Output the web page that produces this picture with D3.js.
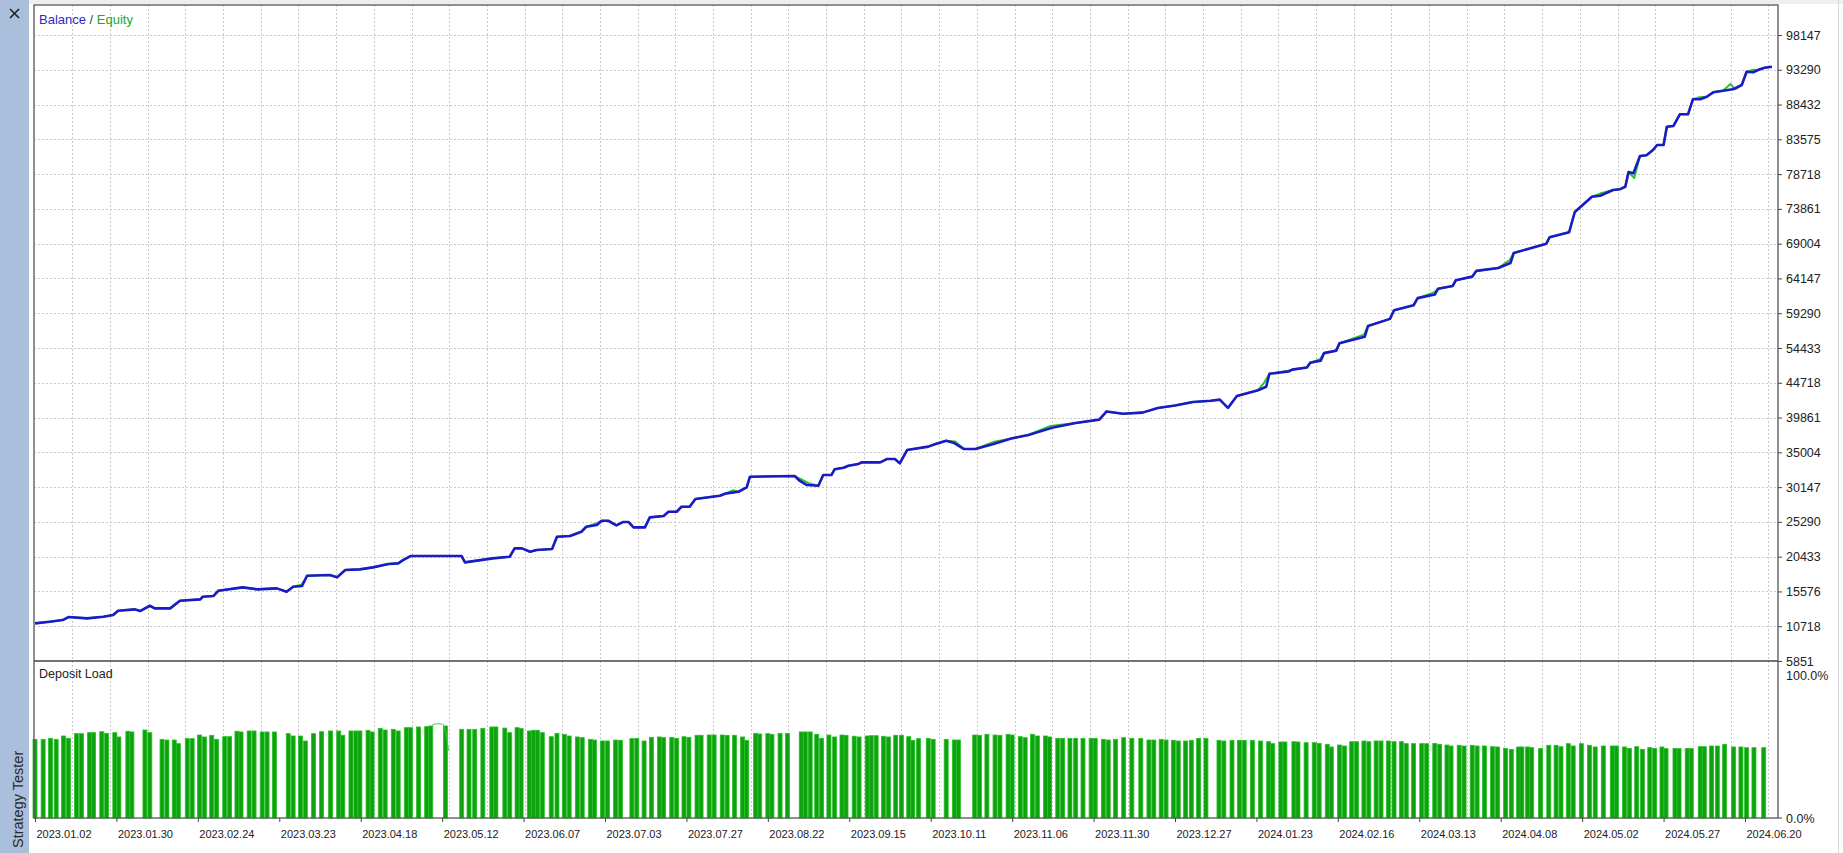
<!DOCTYPE html>
<html><head><meta charset="utf-8">
<script src="https://cdn.jsdelivr.net/npm/d3@7"></script>
<style>html,body{margin:0;padding:0;background:#fff;overflow:hidden}
svg{display:block;font-family:"Liberation Sans",Arial,sans-serif}</style>
</head><body><svg id="c" width="1843" height="853"></svg>
<script>
// ---------- data ----------
const xLabels = ["2023.01.02","2023.01.30","2023.02.24","2023.03.23","2023.04.18","2023.05.12","2023.06.07","2023.07.03","2023.07.27","2023.08.22","2023.09.15","2023.10.11","2023.11.06","2023.11.30","2023.12.27","2024.01.23","2024.02.16","2024.03.13","2024.04.08","2024.05.02","2024.05.27","2024.06.20"];
const yLabels = [5851,10718,15576,20433,25290,30147,35004,39861,44718,54433,59290,64147,69004,73861,78718,83575,88432,93290,98147];
const loadLabels = [0, 100];
// [position on date axis (label index units), value]
const balance = [[0.00,11117],[0.18,11341],[0.34,11578],[0.41,11997],[0.64,11816],[0.84,12039],[0.96,12277],[1.02,12877],[1.23,13073],[1.29,12836],[1.41,13576],[1.47,13213],[1.66,13213],[1.78,14274],[2.03,14470],[2.06,14833],[2.19,14931],[2.25,15671],[2.55,16146],[2.73,15867],[2.97,16006],[3.09,15532],[3.17,16230],[3.28,16328],[3.34,17767],[3.62,17864],[3.71,17543],[3.81,18563],[3.99,18661],[4.15,18940],[4.34,19401],[4.46,19499],[4.52,19960],[4.61,20518],[5.24,20518],[5.28,19638],[5.62,20197],[5.83,20421],[5.89,21594],[5.98,21594],[6.08,21120],[6.16,21357],[6.35,21496],[6.41,23214],[6.57,23312],[6.71,23913],[6.77,24611],[6.90,24849],[6.96,25449],[7.04,25449],[7.14,24807],[7.22,25268],[7.29,25268],[7.35,24528],[7.49,24528],[7.55,25924],[7.72,26106],[7.78,26707],[7.88,26707],[7.94,27405],[8.04,27405],[8.11,28481],[8.41,28942],[8.49,29277],[8.64,29500],[8.74,30115],[8.78,31596],[9.33,31694],[9.39,31037],[9.48,30436],[9.62,30339],[9.68,31833],[9.78,31833],[9.82,32630],[9.93,32853],[9.99,33132],[10.11,33370],[10.15,33607],[10.38,33607],[10.46,34068],[10.56,34068],[10.62,33468],[10.71,35326],[10.97,35801],[11.05,36122],[11.19,36611],[11.29,36303],[11.41,35465],[11.55,35465],[11.76,36122],[11.99,36946],[12.20,37421],[12.49,38427],[12.78,39097],[13.07,39572],[13.16,40718],[13.36,40396],[13.60,40550],[13.79,41207],[14.00,41542],[14.22,42031],[14.44,42198],[14.55,42366],[14.65,41207],[14.76,42869],[15.02,43679],[15.12,44168],[15.16,47232],[15.40,47900],[15.44,48400],[15.62,49000],[15.66,50300],[15.79,50900],[15.83,53000],[15.98,53700],[16.02,55100],[16.33,56000],[16.37,57500],[16.64,58500],[16.69,59700],[16.93,60400],[16.98,61400],[17.19,61900],[17.23,62700],[17.41,63100],[17.45,63900],[17.65,64400],[17.70,65200],[17.97,65605],[18.12,66300],[18.16,67700],[18.56,69000],[18.60,69900],[18.84,70600],[18.91,73425],[19.12,75562],[19.22,75702],[19.38,76498],[19.46,76595],[19.53,76959],[19.57,79011],[19.63,78830],[19.71,81246],[19.79,81344],[19.87,82084],[19.92,82782],[20.00,82782],[20.04,85338],[20.12,85435],[20.20,87069],[20.30,87069],[20.36,89164],[20.45,89164],[20.53,89527],[20.61,90141],[20.73,90365],[20.85,90560],[20.96,91161],[21.02,93018],[21.10,92934],[21.16,93256],[21.24,93577],[21.33,93717]];
const equity = [[0.00,11117],[0.18,11341],[0.34,11578],[0.41,11997],[0.64,11816],[0.84,12039],[0.96,12277],[1.02,12877],[1.23,13073],[1.29,12836],[1.41,13576],[1.47,13213],[1.66,13213],[1.78,14274],[2.03,14470],[2.06,14833],[2.19,14931],[2.25,15671],[2.55,16146],[2.73,15867],[2.97,16006],[3.09,15532],[3.17,16230],[3.27,16500],[3.35,17767],[3.62,17864],[3.71,17543],[3.81,18563],[3.99,18661],[4.15,18940],[4.34,19401],[4.46,19499],[4.52,19960],[4.61,20518],[5.24,20518],[5.28,19638],[5.62,20197],[5.83,20421],[5.89,21594],[5.98,21594],[6.08,21120],[6.16,21357],[6.35,21496],[6.41,23214],[6.57,23312],[6.71,23913],[6.77,24611],[6.90,25100],[6.96,25449],[7.04,25449],[7.14,24807],[7.22,25268],[7.29,25268],[7.35,24528],[7.49,24528],[7.55,25924],[7.72,26106],[7.78,26707],[7.88,26707],[7.94,27405],[8.04,27405],[8.11,28481],[8.41,28942],[8.49,29277],[8.57,29700],[8.64,29500],[8.74,30115],[8.78,31596],[9.33,31694],[9.40,31300],[9.50,30700],[9.62,30339],[9.68,31833],[9.78,31833],[9.82,32630],[9.93,32853],[9.99,33132],[10.11,33370],[10.15,33607],[10.38,33607],[10.46,34068],[10.56,34068],[10.62,33468],[10.71,35326],[10.97,35801],[11.05,36122],[11.19,36611],[11.30,36500],[11.41,35465],[11.55,35465],[11.78,36500],[11.99,36946],[12.20,37421],[12.47,38700],[12.78,39097],[13.07,39572],[13.16,40718],[13.36,40396],[13.60,40550],[13.79,41207],[14.00,41542],[14.22,42031],[14.44,42198],[14.55,42366],[14.65,41207],[14.76,42869],[15.02,43679],[15.10,44900],[15.16,47232],[15.39,48100],[15.44,48400],[15.62,49000],[15.66,50300],[15.78,51300],[15.83,53000],[15.98,53700],[16.02,55100],[16.32,56300],[16.37,57500],[16.64,58500],[16.69,59700],[16.93,60400],[16.98,61400],[17.18,62200],[17.23,62700],[17.41,63100],[17.45,63900],[17.65,64400],[17.70,65200],[17.97,65605],[18.11,66700],[18.16,67700],[18.56,69000],[18.60,69900],[18.84,70600],[18.91,73425],[19.12,75562],[19.22,76000],[19.38,76498],[19.46,76595],[19.53,76959],[19.57,79011],[19.64,78174],[19.71,81246],[19.79,81344],[19.87,82084],[19.92,82782],[20.00,82782],[20.04,85338],[20.12,85435],[20.20,87069],[20.30,87069],[20.36,89164],[20.44,89450],[20.53,89527],[20.61,90141],[20.73,90365],[20.82,91300],[20.88,90560],[20.96,91161],[21.02,93018],[21.10,93300],[21.16,93256],[21.24,93577],[21.33,93717]];
// deposit load, percent
const depositLoad = [[0.00,56.6],[0.10,56.6],[0.19,57.3],[0.26,56.6],[0.35,59.0],[0.41,57.3],[0.51,60.7],[0.57,60.7],[0.67,61.4],[0.72,61.4],[0.82,62.1],[0.88,60.9],[0.98,61.4],[1.03,58.3],[1.14,62.4],[1.19,61.9],[1.35,63.3],[1.41,61.4],[1.56,56.6],[1.62,56.1],[1.71,56.1],[1.76,53.5],[1.87,57.1],[1.93,57.1],[2.02,59.7],[2.08,58.3],[2.17,59.5],[2.23,56.6],[2.33,58.5],[2.39,58.5],[2.48,62.4],[2.53,61.9],[2.63,62.6],[2.69,62.6],[2.79,61.9],[2.85,61.9],[2.94,61.9],[3.11,60.7],[3.17,59.0],[3.26,59.0],[3.32,55.4],[3.42,60.7],[3.52,62.1],[3.63,62.6],[3.73,62.6],[3.78,59.5],[3.88,62.6],[3.94,62.6],[3.99,62.6],[4.09,63.1],[4.14,61.9],[4.24,64.5],[4.30,63.3],[4.40,63.8],[4.46,62.6],[4.56,65.0],[4.61,65.0],[4.71,65.5],[4.81,65.7],[4.86,66.2],[5.04,66.2],[5.24,63.8],[5.33,63.8],[5.40,63.8],
[5.50,64.5],[5.61,65.5],[5.66,65.5],[5.77,64.7],[5.83,61.4],[5.92,65.0],[5.97,64.3],[6.07,62.6],[6.12,63.1],[6.17,63.1],[6.23,61.4],[6.34,58.5],[6.41,60.9],[6.50,60.2],[6.56,59.0],[6.66,58.3],[6.72,57.8],[6.82,56.6],[6.87,56.1],[6.97,55.4],[7.03,55.4],[7.13,56.1],[7.19,55.9],[7.33,57.1],[7.39,57.3],[7.48,55.4],[7.57,58.0],[7.67,58.3],[7.72,57.8],[7.82,58.0],[7.88,57.3],[7.97,58.5],[8.03,58.0],[8.13,59.5],[8.18,59.5],[8.28,59.7],[8.34,59.7],[8.44,59.7],[8.50,59.5],[8.59,59.5],[8.69,58.3],[8.74,55.9],[8.85,60.9],[8.90,60.4],[9.00,60.7],[9.05,60.2],[9.15,60.9],[9.24,60.9],[9.41,61.9],[9.46,61.9],[9.52,61.9],[9.60,60.2],[9.66,57.3],[9.75,59.7],[9.82,58.3],[9.91,59.7],[9.96,59.5],[10.06,58.8],[10.12,58.3],[10.22,59.0],[10.27,59.2],[10.33,59.2],[10.42,58.8],[10.48,58.3],[10.57,59.5],[10.64,59.5],[10.73,58.5],[10.78,55.9],[10.85,57.1],
[10.97,57.3],[11.03,56.6],[11.19,56.6],[11.29,56.1],[11.34,56.1],[11.54,59.7],[11.60,59.5],[11.69,60.2],[11.79,59.7],[11.85,59.5],[11.95,60.2],[12.00,59.7],[12.10,58.5],[12.16,57.8],[12.25,60.2],[12.31,59.0],[12.41,59.0],[12.46,58.3],[12.56,57.3],[12.62,57.3],[12.71,57.3],[12.78,57.3],[12.87,57.3],[12.97,57.3],[13.02,57.3],[13.12,56.6],[13.18,56.1],[13.27,56.6],[13.37,57.8],[13.47,57.3],[13.58,57.3],[13.68,56.1],[13.74,56.1],[13.83,56.6],[13.89,56.1],[13.98,55.9],[14.04,55.4],[14.13,55.4],[14.20,55.9],[14.29,57.3],[14.38,57.3],[14.54,55.9],[14.60,55.4],[14.70,55.9],[14.79,55.9],[14.85,55.9],[14.95,55.9],[15.05,55.4],[15.15,54.9],[15.20,53.5],[15.30,54.7],[15.35,54.7],[15.46,54.9],[15.51,54.7],[15.61,54.2],[15.71,54.2],[15.77,53.7],[15.87,53.0],[15.92,51.1],[16.02,52.5],[16.08,51.8],[16.17,54.9],[16.23,54.9],
[16.32,55.4],[16.38,54.9],[16.47,55.4],[16.53,55.4],[16.62,55.4],[16.69,54.9],[16.78,54.9],[16.84,53.5],[16.93,53.5],[17.03,53.5],[17.09,53.5],[17.19,53.7],[17.25,53.0],[17.34,52.5],[17.39,51.8],[17.49,52.3],[17.55,51.8],[17.65,52.3],[17.71,51.8],[17.80,51.8],[17.90,51.3],[17.96,51.1],[18.06,50.1],[18.13,49.4],[18.22,51.1],[18.26,51.1],[18.33,51.1],[18.38,50.6],[18.49,49.9],[18.59,52.3],[18.68,52.3],[18.74,51.3],[18.83,53.5],[18.89,51.8],[18.99,53.5],[19.09,52.3],[19.16,51.1],[19.26,51.8],[19.37,51.8],[19.42,51.8],[19.52,51.1],[19.58,50.1],[19.67,51.3],[19.74,49.4],[19.83,50.6],[19.89,50.1],[19.98,51.1],[20.03,49.9],[20.14,50.1],[20.19,49.9],[20.29,50.1],[20.34,49.9],[20.45,51.3],[20.50,51.3],[20.59,51.8],[20.66,51.8],[20.75,53.0],[20.86,51.1],[20.95,51.1],[21.02,50.6],[21.11,50.6],[21.23,50.6]];
// thin deposit-load outline seen around 2023.05
const loadOutline = [[4.87,66.2],[4.90,67.4],[4.94,67.8],[4.99,67.6],[5.02,66.8],[5.05,60.0],[5.08,48.5]];

// ---------- layout ----------
const L = 34, R = 1778, T = 5, MB = 661, LB = 818;
const svg = d3.select("#c");
const x = d3.scaleLinear().domain([0, xLabels.length - 1]).range([35, 1745]);
const step = (MB - 35) / (yLabels.length - 1);
const y = d3.scaleLinear().domain(yLabels).range(yLabels.map((d, i) => MB - i * step));
const yl = d3.scaleLinear().domain([0, 100]).range([LB, 679]);
const gx = d3.scaleLinear().domain([0, 45]).range([72.3, 1768.3]);

// window chrome
svg.append("rect").attr("x", 0).attr("y", 0).attr("width", 1843).attr("height", 853).attr("fill", "#fff");
svg.append("rect").attr("x", 29).attr("y", 0).attr("width", 1814).attr("height", 4).attr("fill", "#efefef");
svg.append("line").attr("x1", 1838.5).attr("x2", 1838.5).attr("y1", 0).attr("y2", 853).attr("stroke", "#d8d8d8");
svg.append("rect").attr("x", 0).attr("y", 0).attr("width", 29).attr("height", 853).attr("fill", "#a9bfdb");
svg.append("line").attr("x1", 10).attr("y1", 9).attr("x2", 19).attr("y2", 18).attr("stroke", "#222").attr("stroke-width", 1.6);
svg.append("line").attr("x1", 19).attr("y1", 9).attr("x2", 10).attr("y2", 18).attr("stroke", "#222").attr("stroke-width", 1.6);
svg.append("text").attr("transform", "translate(23,848) rotate(-90)").attr("font-size", 14.5).attr("fill", "#2a2a2a").text("Strategy Tester");

// grid
const grid = svg.append("g").attr("stroke", "#c9c9c9").attr("stroke-dasharray", "2,2").attr("stroke-width", 1);
grid.selectAll("line.v").data(d3.range(0, 46)).join("line").attr("class", "v")
  .attr("x1", d => Math.round(gx(d)) + 0.5).attr("x2", d => Math.round(gx(d)) + 0.5).attr("y1", T).attr("y2", LB);
grid.selectAll("line.h").data(yLabels.slice(1)).join("line").attr("class", "h")
  .attr("x1", L).attr("x2", R).attr("y1", d => Math.round(y(d)) + 0.5).attr("y2", d => Math.round(y(d)) + 0.5);

// deposit load bars
svg.append("g").selectAll("rect").data(depositLoad).join("rect")
  .attr("x", d => x(d[0]) - 2).attr("width", 4)
  .attr("y", d => yl(d[1])).attr("height", d => LB - yl(d[1]))
  .attr("fill", "#0ea20e").attr("stroke", "#27c027").attr("stroke-width", 0.8);
svg.append("path").datum(loadOutline)
  .attr("d", d3.line().x(d => x(d[0])).y(d => yl(d[1])).curve(d3.curveMonotoneX))
  .attr("fill", "none").attr("stroke", "#3ad23a").attr("stroke-width", 1);

// lines
const line = d3.line().x(d => x(d[0])).y(d => y(d[1]));
svg.append("path").datum(equity).attr("d", line).attr("fill", "none").attr("stroke", "#2cc42c").attr("stroke-width", 2).attr("stroke-linejoin", "round");
svg.append("path").datum(balance).attr("d", line).attr("fill", "none").attr("stroke", "#1a1ac8").attr("stroke-width", 2.6).attr("stroke-linejoin", "round");

// frame
svg.append("rect").attr("x", L).attr("y", T).attr("width", R - L).attr("height", LB - T).attr("fill", "none").attr("stroke", "#555").attr("stroke-width", 1.3);
svg.append("line").attr("x1", L).attr("x2", R).attr("y1", MB).attr("y2", MB).attr("stroke", "#444").attr("stroke-width", 1.6);

// y axis (main)
const yAxis = svg.append("g").attr("transform", `translate(${R},0)`)
  .call(d3.axisRight(y).tickValues(yLabels).tickFormat(d3.format("d")).tickSize(4).tickPadding(4));
yAxis.select(".domain").remove();
yAxis.selectAll("text").attr("font-size", 12.5).attr("fill", "#222").attr("font-family", "Liberation Sans, Arial, sans-serif");
yAxis.selectAll("line").attr("stroke", "#444");

// load axis
const lAxis = svg.append("g").attr("transform", `translate(${R},0)`)
  .call(d3.axisRight(yl).tickValues(loadLabels).tickFormat(d => d3.format(".1f")(d) + "%").tickSize(0).tickPadding(8));
lAxis.select(".domain").remove();
lAxis.selectAll("text").attr("font-size", 12.5).attr("fill", "#222").attr("font-family", "Liberation Sans, Arial, sans-serif")
  .attr("dy", d => d === 100 ? "0.05em" : "0.32em");
svg.append("line").attr("x1", R).attr("x2", R + 4).attr("y1", LB).attr("y2", LB).attr("stroke", "#444");

// x axis
const xAxis = svg.append("g").attr("transform", `translate(0,${LB})`)
  .call(d3.axisBottom(x).tickValues(d3.range(xLabels.length)).tickFormat(i => xLabels[i]).tickSize(4).tickPadding(8));
xAxis.select(".domain").remove();
xAxis.selectAll("line").attr("stroke", "#444");
xAxis.selectAll("text").attr("font-size", 11).attr("fill", "#222").attr("text-anchor", "start").attr("dx", 1)
  .attr("font-family", "Liberation Sans, Arial, sans-serif");

// titles
const leg = svg.append("text").attr("x", 39).attr("y", 23.5).attr("font-size", 13);
leg.append("tspan").attr("fill", "#2b2bc4").text("Balance");
leg.append("tspan").attr("fill", "#444").text(" / ");
leg.append("tspan").attr("fill", "#22a822").text("Equity");
svg.append("text").attr("x", 39).attr("y", 678).attr("font-size", 12.5).attr("fill", "#222").text("Deposit Load");
</script></body></html>
